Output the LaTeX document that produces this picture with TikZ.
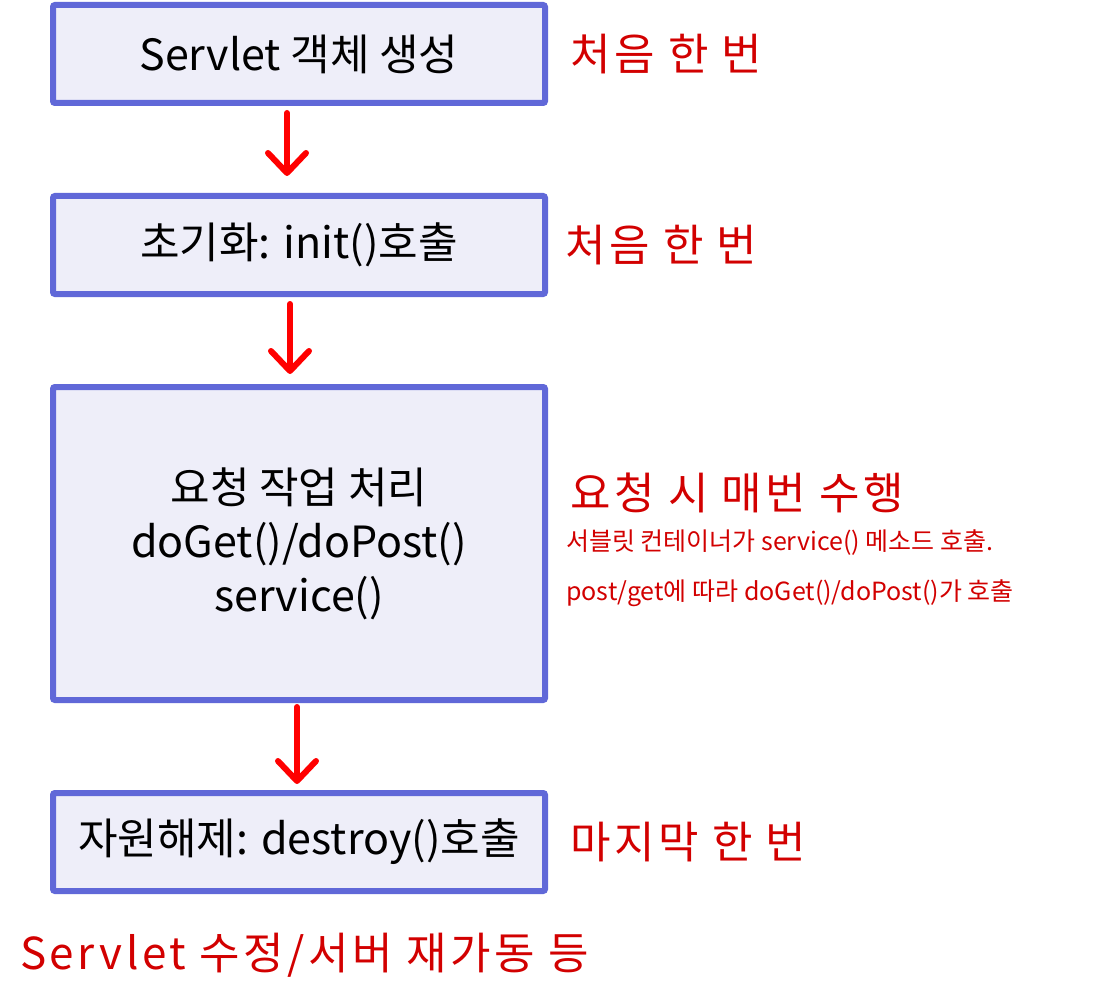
\documentclass[tikz,border=0pt]{standalone}
\usepackage{fontspec}
\setmainfont{Noto Sans CJK KR}
\usepackage{tikz}
\usetikzlibrary{arrows.meta, positioning, calc}

\definecolor{stageblue}{HTML}{6068D8}
\definecolor{stagefill}{HTML}{EEEEF9}
\definecolor{notered}{HTML}{D20000}
\definecolor{arrowred}{HTML}{FF0000}

\begin{document}
\begin{tikzpicture}[
    x=1pt, y=-1pt,
    node distance=87pt,
    stage/.style={rectangle, rounded corners=2pt, minimum width=492pt, minimum height=98pt,
                  text centered, line width=6pt, draw=stageblue, fill=stagefill,
                  font=\fontsize{43}{54}\selectfont},
    remark/.style={anchor=west, inner sep=0pt, text=notered,
                   font=\fontsize{44}{52}\selectfont\addfontfeatures{LetterSpace=8}},
    detail/.style={anchor=west, inner sep=0pt, text=notered, font=\fontsize{25}{30}\selectfont},
    arrow/.style={line width=6pt, draw=arrowred, line cap=round,
                  -{Straight Barb[length=20pt, width=38pt, round]}}
]
\useasboundingbox (0,0) rectangle (1110,1000);

\node (create) [stage] at (299,54) {Servlet 객체 생성};
\node (init) [stage, below=of create] {초기화: init()호출};
\node (handle) [stage, below=of init, minimum height=313pt, align=center] {요청 작업 처리\\doGet()/doPost()\\service()};
\node (destroy) [stage, below=of handle] {자원해제: destroy()호출};

\node (onceA) [remark, right=22pt of create] {처음 한 번};
\node (onceB) [remark, right=17pt of init] {처음 한 번};
\node (every) [remark] at (570,493) {요청 시 매번 수행};
\node (callA) [detail] at (566,543) {서블릿 컨테이너가 service() 메소드 호출.};
\node (callB) [detail] at (566,593) {post/get에 따라 doGet()/doPost()가 호출};
\node (last) [remark, right=22pt of destroy] {마지막 한 번};
\node (cause) [remark] at (20,955) {Servlet 수정/서버 재가동 등};

\draw [arrow] ([xshift=-12pt,yshift=-7pt]create.south) -- ([xshift=-12pt,yshift=17pt]init.north);
\draw [arrow] ([xshift=-9pt,yshift=-7pt]init.south) -- ([xshift=-9pt,yshift=10pt]handle.north);
\draw [arrow] ([xshift=-2pt,yshift=-4pt]handle.south) -- ([xshift=-2pt,yshift=6pt]destroy.north);

\end{tikzpicture}
\end{document}
